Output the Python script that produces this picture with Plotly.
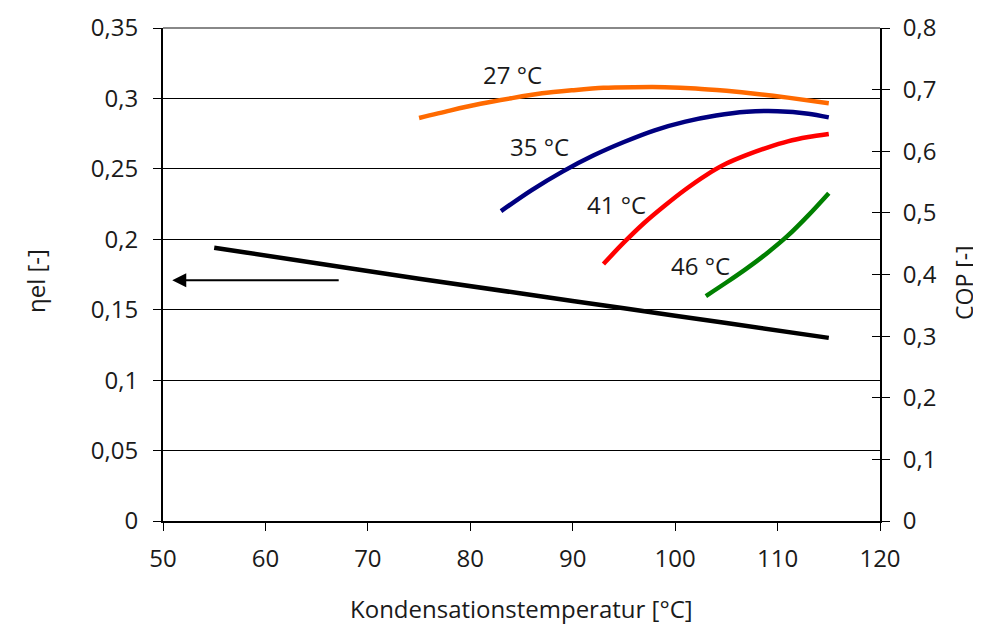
import plotly.graph_objects as go

# ---- data ----
el_x = [55, 65, 75, 85, 95, 105, 115]
el_y = [0.194, 0.183, 0.172, 0.1615, 0.151, 0.1405, 0.130]

cop27_x = [75, 78, 81, 84, 87, 90, 93, 96, 99, 102, 105, 108, 111, 115]
cop27_y = [0.654, 0.666, 0.677, 0.686, 0.694, 0.699, 0.703, 0.704, 0.704, 0.702, 0.698, 0.693, 0.687, 0.678]

cop35_x = [83, 86, 89, 92, 95, 98, 101, 104, 107, 110, 113, 115]
cop35_y = [0.503, 0.537, 0.567, 0.593, 0.615, 0.634, 0.648, 0.658, 0.664, 0.665, 0.661, 0.655]

cop41_x = [93, 95, 97, 99, 101, 103, 105, 107, 109, 111, 113, 115]
cop41_y = [0.417, 0.452, 0.484, 0.512, 0.538, 0.561, 0.580, 0.594, 0.606, 0.616, 0.623, 0.628]

cop46_x = [103, 105, 107, 109, 111, 113, 115]
cop46_y = [0.365, 0.387, 0.410, 0.435, 0.463, 0.496, 0.532]

labels = ["27 °C", "35 °C", "41 °C", "46 °C"]
label_x = [84.1, 86.8, 94.3, 102.5]
label_y = [0.724, 0.607, 0.513, 0.414]

left_ticks = [0, 0.05, 0.1, 0.15, 0.2, 0.25, 0.3, 0.35]
left_text = ["0", "0,05", "0,1", "0,15", "0,2", "0,25", "0,3", "0,35"]
right_ticks = [0, 0.1, 0.2, 0.3, 0.4, 0.5, 0.6, 0.7, 0.8]
right_text = ["0", "0,1", "0,2", "0,3", "0,4", "0,5", "0,6", "0,7", "0,8"]
x_ticks = [50, 60, 70, 80, 90, 100, 110, 120]

FONT = "Open Sans"
TXT = "#1a1a1a"

fig = go.Figure()
fig.add_trace(go.Scatter(x=el_x, y=el_y, mode="lines", line=dict(color="black", width=4.5, shape="spline"),
                         yaxis="y", showlegend=False))
for xs, ys, c in [(cop27_x, cop27_y, "#FF6A00"), (cop35_x, cop35_y, "#000080"),
                  (cop41_x, cop41_y, "#FF0000"), (cop46_x, cop46_y, "#008000")]:
    fig.add_trace(go.Scatter(x=xs, y=ys, mode="lines",
                             line=dict(color=c, width=4.5, shape="spline", smoothing=0.8),
                             yaxis="y2", showlegend=False))

for t, lx, ly in zip(labels, label_x, label_y):
    fig.add_annotation(x=lx, y=ly, xref="x", yref="y2", text=t, showarrow=False,
                       xanchor="center", yanchor="middle",
                       font=dict(size=24, color=TXT, family=FONT))

# arrow pointing to left axis
fig.add_annotation(x=50.9, y=0.171, ax=67.3, ay=0.171, xref="x", yref="y", axref="x", ayref="y",
                   text="", showarrow=True, arrowhead=2, arrowsize=1.4, arrowwidth=2, arrowcolor="black")

# top border
fig.add_shape(type="line", xref="paper", yref="paper", x0=0, x1=1, y0=1, y1=1,
              line=dict(color="#888", width=2))

# axis titles (placed manually, relative to plot area 163..880 x 28..521)
PW, PH = 717.0, 493.0
fig.add_annotation(xref="paper", yref="paper", x=(35 - 163) / PW, y=(521 - 281) / PH,
                   text="ηel [-]", textangle=-90, showarrow=False,
                   xanchor="center", yanchor="middle",
                   font=dict(size=24, color=TXT, family=FONT))
fig.add_annotation(xref="paper", yref="paper", x=(964 - 163) / PW, y=(521 - 283) / PH,
                   text="COP [-]", textangle=-90, showarrow=False,
                   xanchor="center", yanchor="middle",
                   font=dict(size=23, color=TXT, family=FONT))
fig.add_annotation(xref="paper", yref="paper", x=(521 - 163) / PW, y=(521 - 608) / PH,
                   text="Kondensationstemperatur [°C]", showarrow=False,
                   xanchor="center", yanchor="middle",
                   font=dict(size=24, color=TXT, family=FONT))

fig.update_layout(
    width=973, height=617,
    margin=dict(l=155, r=101, t=20, b=104, autoexpand=False),
    plot_bgcolor="white", paper_bgcolor="white",
    font=dict(family=FONT, size=24, color=TXT),
    xaxis=dict(range=[50, 120], tickvals=x_ticks, ticks="outside", ticklen=8, tickwidth=1,
               tickcolor="black", showline=True, linecolor="black", linewidth=2,
               showgrid=False, zeroline=False, tickfont=dict(size=24), automargin=False,
               ticklabelstandoff=7),
    yaxis=dict(range=[0, 0.35], tickvals=left_ticks, ticktext=left_text, ticks="outside",
               ticklen=8, tickwidth=1, tickcolor="black", showline=True, linecolor="black",
               linewidth=2, showgrid=True, gridcolor="black", gridwidth=1, zeroline=False,
               tickfont=dict(size=24), automargin=False, ticklabelstandoff=10),
    yaxis2=dict(range=[0, 0.8], tickvals=right_ticks, ticktext=right_text, overlaying="y",
                side="right", ticks="outside", ticklen=8, tickwidth=1, tickcolor="black",
                showline=True, linecolor="black", linewidth=2, showgrid=False, zeroline=False,
                tickfont=dict(size=24), automargin=False, ticklabelstandoff=8),
    yaxis3=dict(range=[0, 0.8], tickvals=right_ticks, overlaying="y", side="right",
                ticks="inside", ticklen=8, tickwidth=1, tickcolor="black", showticklabels=False,
                showline=False, showgrid=False, zeroline=False, automargin=False),
)
fig.add_trace(go.Scatter(x=[None], y=[None], yaxis="y3", showlegend=False))

fig.write_html("out.html")
